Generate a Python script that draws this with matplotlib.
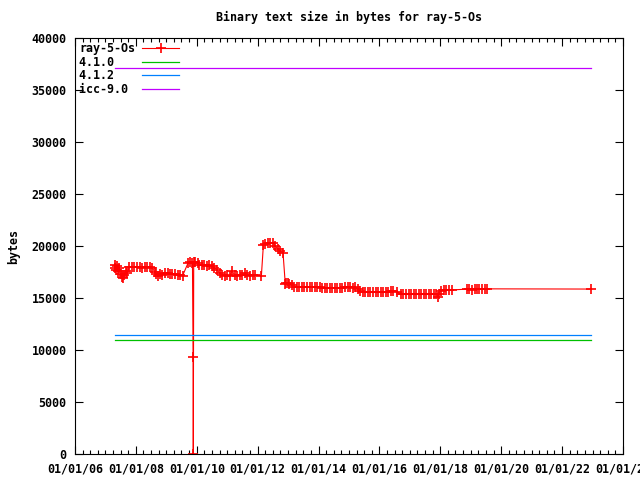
import numpy as np
import matplotlib
matplotlib.use('Agg')
import matplotlib.pyplot as plt
import matplotlib.dates as mdates

# ray-5-Os binary text size over time
dates = [
    '2007-04-20', '2007-05-01', '2007-05-10', '2007-05-20', '2007-06-01', '2007-06-15',
    '2007-07-01', '2007-07-15', '2007-08-01', '2007-08-15', '2007-09-01', '2007-09-15',
    '2007-10-15', '2007-11-15', '2007-12-15', '2008-01-15', '2008-02-15', '2008-03-15',
    '2008-04-15', '2008-05-15', '2008-06-15', '2008-07-15', '2008-08-15', '2008-09-01',
    '2008-09-20', '2008-10-15', '2008-11-15', '2008-12-15', '2009-01-15', '2009-02-15',
    '2009-03-15', '2009-04-15', '2009-05-15', '2009-06-15', '2009-07-15', '2009-09-20',
    '2009-10-15', '2009-11-10', '2009-11-18', '2009-11-20', '2009-11-25', '2009-12-15',
    '2010-01-10', '2010-02-01', '2010-03-01', '2010-04-01', '2010-05-01', '2010-06-01',
    '2010-07-01', '2010-08-01', '2010-09-01', '2010-10-01', '2010-11-01', '2010-12-01',
    '2011-01-01', '2011-02-01', '2011-03-01', '2011-04-01', '2011-05-01', '2011-06-01',
    '2011-07-01', '2011-08-01', '2011-09-01', '2011-10-01', '2011-11-01', '2011-12-01',
    '2012-02-15', '2012-03-10', '2012-04-01', '2012-05-01', '2012-06-01', '2012-07-01',
    '2012-08-01', '2012-09-01', '2012-10-01', '2012-11-01', '2012-11-28', '2012-12-10',
    '2012-12-25', '2013-01-15', '2013-02-15', '2013-03-15', '2013-04-15', '2013-05-15',
    '2013-06-15', '2013-07-15', '2013-08-15', '2013-09-15', '2013-10-15', '2013-11-15',
    '2013-12-15', '2014-01-15', '2014-02-15', '2014-03-15', '2014-04-15', '2014-05-15',
    '2014-06-15', '2014-07-15', '2014-08-15', '2014-09-15', '2014-10-15', '2014-11-15',
    '2014-12-15', '2015-01-15', '2015-02-15', '2015-03-15', '2015-04-15', '2015-05-15',
    '2015-06-15', '2015-07-15', '2015-08-15', '2015-09-15', '2015-10-15', '2015-11-15',
    '2015-12-15', '2016-01-15', '2016-02-15', '2016-03-15', '2016-04-15', '2016-05-15',
    '2016-06-15', '2016-08-01', '2016-09-15', '2016-10-15', '2016-11-15', '2016-12-15',
    '2017-01-15', '2017-02-15', '2017-03-15', '2017-04-15', '2017-05-15', '2017-06-15',
    '2017-07-15', '2017-08-15', '2017-09-15', '2017-10-15', '2017-11-15', '2017-12-01',
    '2017-12-10', '2018-01-10', '2018-02-10', '2018-03-10', '2018-04-10', '2018-05-15',
    '2018-11-20', '2018-12-15', '2019-01-15', '2019-02-15', '2019-03-15', '2019-04-15',
    '2019-05-15', '2019-06-15', '2019-07-15', '2022-12-10',
]
sizes = [
    17900, 18150, 17700, 18050, 17600, 17900,
    17300, 17000, 16900, 17200, 17600, 17400,
    17950, 18000, 17950, 18000, 17950, 17900,
    18000, 17950, 17950, 17900, 17500, 17300,
    17150, 17300, 17250, 17450, 17400, 17300,
    17350, 17300, 17250, 17200, 17150, 18400,
    18500, 18400, 9300, 0, 18500, 18450,
    18400, 18150, 18200, 18150, 18100, 18150,
    18100, 17900, 17700, 17400, 17200, 17150,
    17200, 17150, 17600, 17200, 17150, 17200,
    17250, 17400, 17200, 17150, 17200, 17200,
    17150, 20100, 20200, 20300, 20250, 20300,
    20000, 19700, 19500, 19300, 16300, 16450,
    16400, 16300, 16250, 16100, 16050, 16050,
    16050, 16060, 16050, 16050, 16060, 16050,
    16050, 16050, 16000, 15950, 15950, 15960,
    15950, 15950, 15960, 15950, 15950, 16050,
    16100, 16050, 16000, 16050, 15900, 15700,
    15600, 15580, 15580, 15570, 15580, 15580,
    15590, 15580, 15580, 15570, 15580, 15650,
    15650, 15600, 15400, 15380, 15380, 15390,
    15380, 15380, 15380, 15370, 15380, 15380,
    15390, 15380, 15380, 15370, 15380, 15050,
    15400, 15700, 15750, 15800, 15750, 15780,
    15850, 15900, 15800, 15850, 15900, 15850,
    15900, 15880, 15880, 15860,
]

# reference compilers (constant sizes)
ref_names = ['4.1.0', '4.1.2', 'icc-9.0']
ref_sizes = [10950, 11400, 37100]
ref_colors = ['#00c000', '#0080ff', '#c000ff']

mono = 'DejaVu Sans Mono'
fs = 8.4

x = np.array(dates, dtype='datetime64[D]')

fig = plt.figure(figsize=(6.4, 4.8), dpi=100)
ax = fig.add_axes([75/640, 26/480, 548/640, 416/480])

ax.plot(x, sizes, color='#ff0000', lw=0.8, marker='+', ms=6.5, mew=1.2,
        label='ray-5-Os')
for name, s, c in zip(ref_names, ref_sizes, ref_colors):
    ax.plot([x[0], x[-1]], [s, s], color=c, lw=0.9, label=name.ljust(8))

ax.set_xlim(np.datetime64('2006-01-01'), np.datetime64('2024-01-01'))
ax.set_ylim(0, 40000)
ax.xaxis.set_major_locator(mdates.YearLocator(base=2, month=1, day=1))
ax.xaxis.set_minor_locator(mdates.MonthLocator(bymonth=[1, 4, 7, 10]))
ax.xaxis.set_major_formatter(mdates.DateFormatter('%m/%d/%y'))
ax.set_yticks(np.arange(0, 40001, 5000))

ax.tick_params(which='both', direction='in', top=True, right=True, width=0.8)
ax.tick_params(which='major', length=6, labelsize=fs, pad=6)
ax.tick_params(which='minor', length=3)
for lab in ax.get_xticklabels() + ax.get_yticklabels():
    lab.set_family(mono)
    lab.set_weight('bold')
for sp in ax.spines.values():
    sp.set_linewidth(0.8)

ax.set_title('Binary text size in bytes for ray-5-Os', family=mono,
             weight='bold', fontsize=fs, pad=12)
ax.set_ylabel('bytes', family=mono, weight='bold', fontsize=fs, labelpad=8)

leg = ax.legend(loc='upper left', frameon=False, markerfirst=False,
                prop={'family': mono, 'weight': 'bold', 'size': fs},
                handlelength=3.2, handletextpad=0.6, labelspacing=0.05,
                borderaxespad=0.15, borderpad=0.2)

fig.savefig('out.png', dpi=100)
